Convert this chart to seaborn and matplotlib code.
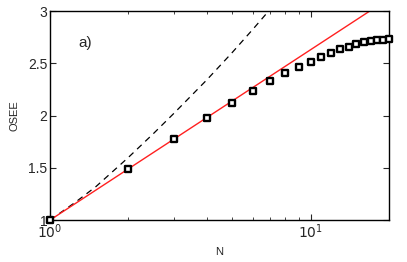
import matplotlib
matplotlib.use("Agg")
import matplotlib.pyplot as plt
import seaborn as sns
import numpy as np
import pandas as pd
from matplotlib.ticker import LogLocator, FixedLocator, NullFormatter

# Data
N_points = [1, 2, 3, 4, 5, 6, 7, 8, 9, 10, 11, 12, 13, 14, 15, 16, 17, 18, 19, 20]
osee_points = [1.00, 1.49, 1.778, 1.979, 2.123, 2.237, 2.33, 2.404, 2.467, 2.515,
               2.563, 2.601, 2.633, 2.659, 2.681, 2.700, 2.713, 2.722, 2.726, 2.729]

N_red = [1, 20]
osee_red = [1.0, 3.12]

N_dash = [1, 1.25, 1.5, 2, 2.5, 3, 4, 5, 6, 7]
osee_dash = [1.0, 1.17, 1.32, 1.60, 1.83, 2.025, 2.342, 2.602, 2.824, 3.017]

yticks = [1, 1.5, 2, 2.5, 3]
ytick_labels = ["1", "1.5", "2", "2.5", "3"]

sns.set_style("ticks")
plt.rcParams['font.family'] = ['Liberation Sans', 'DejaVu Sans']

fig = plt.figure(figsize=(4.07, 2.62), dpi=100)
ax = fig.add_axes([0.1229, 0.160, 0.8329, 0.798])

sns.lineplot(x=N_dash, y=osee_dash, ax=ax, color="black", linestyle=(0, (5, 4)),
             linewidth=0.9, sort=False)
sns.lineplot(x=N_red, y=osee_red, ax=ax, color="#ff2020", linewidth=1.0, sort=False)
sns.scatterplot(x=N_points, y=osee_points, ax=ax, marker="s", s=24,
                facecolor="white", edgecolor="black", linewidth=1.7, zorder=5,
                clip_on=False)

ax.set_xscale("log")
ax.set_xlim(1, 20)
ax.set_ylim(1, 3)
ax.set_yticks(yticks)
ax.set_yticklabels(ytick_labels)
ax.xaxis.set_major_locator(FixedLocator([1, 10]))
ax.set_xticklabels([r"$10^0$", r"$10^1$"])
ax.xaxis.set_minor_locator(LogLocator(base=10, subs=np.arange(2, 10)))
ax.xaxis.set_minor_formatter(NullFormatter())

for side in ["top", "right", "left", "bottom"]:
    ax.spines[side].set_visible(True)
    ax.spines[side].set_linewidth(1.0)
    ax.spines[side].set_color("black")

ax.tick_params(which="major", direction="in", length=4, width=0.8,
               top=True, right=True, labelsize=10, pad=2)
ax.tick_params(which="minor", direction="in", length=2.2, width=0.6,
               top=True, right=True)

ax.set_xlabel("N", fontsize=8, labelpad=4)
ax.set_ylabel("OSEE", fontsize=8, labelpad=6)
ax.text(0.085, 0.83, "a)", transform=ax.transAxes, fontsize=11)

fig.savefig("out.png", dpi=100)
